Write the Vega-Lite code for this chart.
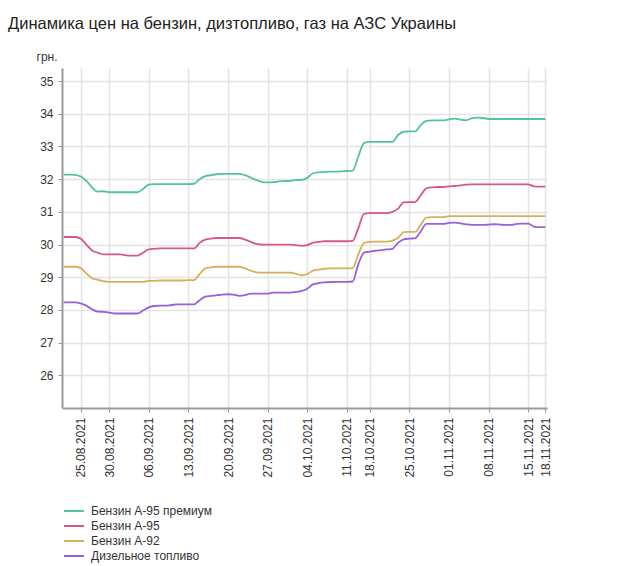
{
"$schema":"https://vega.github.io/schema/vega-lite/v6.json",
"width":485,"height":340,
"autosize":{"type":"none"},
"padding":{"left":62,"top":68,"right":73,"bottom":158},
"background":"white",
"title":{"text":"Динамика цен на бензин, дизтопливо, газ на АЗС Украины","anchor":"start","frame":"group","dx":-54,"offset":18,"font":"Liberation Sans","fontSize":16.5,"fontWeight":"normal","color":"#222"},
"config":{"view":{"stroke":null},"font":"Liberation Sans"},
"data":{"values":[
{"d":"22.08.2021","p":32.14,"a":30.23,"b":29.32,"t":28.23},
{"d":"23.08.2021","p":32.14,"a":30.23,"b":29.32,"t":28.23},
{"d":"24.08.2021","p":32.13,"a":30.23,"b":29.32,"t":28.23},
{"d":"25.08.2021","p":32.08,"a":30.18,"b":29.28,"t":28.20},
{"d":"26.08.2021","p":31.95,"a":30.00,"b":29.12,"t":28.13},
{"d":"27.08.2021","p":31.75,"a":29.82,"b":28.97,"t":28.02},
{"d":"28.08.2021","p":31.62,"a":29.75,"b":28.92,"t":27.95},
{"d":"29.08.2021","p":31.63,"a":29.70,"b":28.88,"t":27.94},
{"d":"30.08.2021","p":31.60,"a":29.70,"b":28.86,"t":27.92},
{"d":"31.08.2021","p":31.60,"a":29.70,"b":28.86,"t":27.89},
{"d":"01.09.2021","p":31.60,"a":29.70,"b":28.86,"t":27.89},
{"d":"02.09.2021","p":31.60,"a":29.67,"b":28.86,"t":27.89},
{"d":"03.09.2021","p":31.60,"a":29.66,"b":28.86,"t":27.89},
{"d":"04.09.2021","p":31.60,"a":29.66,"b":28.86,"t":27.89},
{"d":"05.09.2021","p":31.70,"a":29.75,"b":28.86,"t":27.98},
{"d":"06.09.2021","p":31.83,"a":29.85,"b":28.89,"t":28.08},
{"d":"07.09.2021","p":31.85,"a":29.87,"b":28.89,"t":28.12},
{"d":"08.09.2021","p":31.85,"a":29.88,"b":28.90,"t":28.13},
{"d":"09.09.2021","p":31.85,"a":29.88,"b":28.90,"t":28.13},
{"d":"10.09.2021","p":31.85,"a":29.88,"b":28.90,"t":28.15},
{"d":"11.09.2021","p":31.85,"a":29.88,"b":28.90,"t":28.17},
{"d":"12.09.2021","p":31.85,"a":29.88,"b":28.90,"t":28.17},
{"d":"13.09.2021","p":31.85,"a":29.88,"b":28.91,"t":28.17},
{"d":"14.09.2021","p":31.86,"a":29.88,"b":28.91,"t":28.17},
{"d":"15.09.2021","p":32.00,"a":30.05,"b":29.10,"t":28.30},
{"d":"16.09.2021","p":32.09,"a":30.15,"b":29.27,"t":28.41},
{"d":"17.09.2021","p":32.12,"a":30.18,"b":29.30,"t":28.43},
{"d":"18.09.2021","p":32.15,"a":30.20,"b":29.32,"t":28.45},
{"d":"19.09.2021","p":32.16,"a":30.20,"b":29.32,"t":28.47},
{"d":"20.09.2021","p":32.16,"a":30.20,"b":29.32,"t":28.48},
{"d":"21.09.2021","p":32.16,"a":30.20,"b":29.32,"t":28.47},
{"d":"22.09.2021","p":32.16,"a":30.20,"b":29.32,"t":28.43},
{"d":"23.09.2021","p":32.12,"a":30.15,"b":29.27,"t":28.45},
{"d":"24.09.2021","p":32.05,"a":30.08,"b":29.20,"t":28.50},
{"d":"25.09.2021","p":31.97,"a":30.02,"b":29.15,"t":28.50},
{"d":"26.09.2021","p":31.92,"a":30.00,"b":29.14,"t":28.50},
{"d":"27.09.2021","p":31.90,"a":30.00,"b":29.14,"t":28.50},
{"d":"28.09.2021","p":31.91,"a":30.00,"b":29.14,"t":28.53},
{"d":"29.09.2021","p":31.93,"a":30.00,"b":29.14,"t":28.53},
{"d":"30.09.2021","p":31.94,"a":30.00,"b":29.14,"t":28.53},
{"d":"01.10.2021","p":31.95,"a":30.00,"b":29.14,"t":28.53},
{"d":"02.10.2021","p":31.97,"a":29.98,"b":29.10,"t":28.55},
{"d":"03.10.2021","p":31.98,"a":29.96,"b":29.06,"t":28.58},
{"d":"04.10.2021","p":32.04,"a":29.98,"b":29.10,"t":28.65},
{"d":"05.10.2021","p":32.18,"a":30.06,"b":29.20,"t":28.78},
{"d":"06.10.2021","p":32.21,"a":30.08,"b":29.23,"t":28.82},
{"d":"07.10.2021","p":32.22,"a":30.10,"b":29.26,"t":28.84},
{"d":"08.10.2021","p":32.23,"a":30.10,"b":29.27,"t":28.85},
{"d":"09.10.2021","p":32.23,"a":30.10,"b":29.27,"t":28.86},
{"d":"10.10.2021","p":32.24,"a":30.10,"b":29.27,"t":28.86},
{"d":"11.10.2021","p":32.25,"a":30.10,"b":29.27,"t":28.86},
{"d":"15.10.2021","p":32.26,"a":30.11,"b":29.28,"t":28.87},
{"d":"16.10.2021","p":32.70,"a":30.50,"b":29.70,"t":29.40},
{"d":"17.10.2021","p":33.10,"a":30.94,"b":30.04,"t":29.75},
{"d":"18.10.2021","p":33.14,"a":30.96,"b":30.08,"t":29.78},
{"d":"19.10.2021","p":33.14,"a":30.96,"b":30.09,"t":29.81},
{"d":"20.10.2021","p":33.14,"a":30.96,"b":30.09,"t":29.83},
{"d":"21.10.2021","p":33.14,"a":30.96,"b":30.09,"t":29.85},
{"d":"22.10.2021","p":33.14,"a":31.00,"b":30.12,"t":29.87},
{"d":"23.10.2021","p":33.35,"a":31.10,"b":30.20,"t":30.05},
{"d":"24.10.2021","p":33.45,"a":31.29,"b":30.38,"t":30.16},
{"d":"25.10.2021","p":33.46,"a":31.30,"b":30.39,"t":30.18},
{"d":"26.10.2021","p":33.46,"a":31.30,"b":30.39,"t":30.19},
{"d":"27.10.2021","p":33.65,"a":31.50,"b":30.60,"t":30.40},
{"d":"28.10.2021","p":33.78,"a":31.72,"b":30.82,"t":30.63},
{"d":"29.10.2021","p":33.80,"a":31.75,"b":30.84,"t":30.63},
{"d":"30.10.2021","p":33.80,"a":31.76,"b":30.84,"t":30.63},
{"d":"31.10.2021","p":33.80,"a":31.76,"b":30.84,"t":30.63},
{"d":"01.11.2021","p":33.83,"a":31.78,"b":30.87,"t":30.66},
{"d":"02.11.2021","p":33.85,"a":31.79,"b":30.87,"t":30.67},
{"d":"03.11.2021","p":33.82,"a":31.81,"b":30.87,"t":30.65},
{"d":"04.11.2021","p":33.80,"a":31.83,"b":30.87,"t":30.62},
{"d":"05.11.2021","p":33.86,"a":31.84,"b":30.87,"t":30.60},
{"d":"06.11.2021","p":33.88,"a":31.84,"b":30.87,"t":30.60},
{"d":"07.11.2021","p":33.87,"a":31.84,"b":30.87,"t":30.60},
{"d":"08.11.2021","p":33.84,"a":31.84,"b":30.87,"t":30.61},
{"d":"09.11.2021","p":33.84,"a":31.84,"b":30.87,"t":30.62},
{"d":"10.11.2021","p":33.84,"a":31.84,"b":30.87,"t":30.61},
{"d":"11.11.2021","p":33.84,"a":31.84,"b":30.87,"t":30.60},
{"d":"12.11.2021","p":33.84,"a":31.84,"b":30.87,"t":30.60},
{"d":"13.11.2021","p":33.84,"a":31.84,"b":30.87,"t":30.63},
{"d":"14.11.2021","p":33.84,"a":31.84,"b":30.87,"t":30.64},
{"d":"15.11.2021","p":33.84,"a":31.84,"b":30.87,"t":30.64},
{"d":"16.11.2021","p":33.84,"a":31.78,"b":30.87,"t":30.55},
{"d":"17.11.2021","p":33.84,"a":31.77,"b":30.87,"t":30.53},
{"d":"18.11.2021","p":33.84,"a":31.77,"b":30.87,"t":30.53}
]},
"transform":[{"fold":["p","a","b","t"],"as":["k","v"]}],
"mark":{"type":"line","interpolate":"monotone","strokeWidth":1.8},
"encoding":{
"x":{"field":"d","type":"ordinal","sort":null,"scale":{"type":"point","padding":0.3},
"axis":{"values":["25.08.2021","30.08.2021","06.09.2021","13.09.2021","20.09.2021","27.09.2021","04.10.2021","11.10.2021","18.10.2021","25.10.2021","01.11.2021","08.11.2021","15.11.2021","18.11.2021"],
"title":null,"labelAngle":-90,"labelFontSize":12,"labelColor":"#333","labelPadding":5,"tickSize":4,"tickColor":"#999","domainColor":"#999","domainWidth":2,"grid":true,"gridColor":"#e3e3e3","gridWidth":1.5}},
"y":{"field":"v","type":"quantitative","scale":{"domain":[25,35.4],"nice":false,"zero":false},
"axis":{"values":[26,27,28,29,30,31,32,33,34,35],"title":"грн.","titleAngle":0,"titleAlign":"left","titleBaseline":"alphabetic","titleX":-26,"titleY":-8,"titleFontSize":12,"titleFontWeight":"normal","titleColor":"#333","labelFontSize":12,"labelColor":"#333","labelPadding":5,"tickSize":4,"tickColor":"#999","domainColor":"#999","domainWidth":2,"gridColor":"#e3e3e3","gridWidth":1.5}},
"color":{"field":"k","type":"nominal","scale":{"domain":["p","a","b","t"],"range":["#52c2a3","#d6568f","#d4b157","#9a5fdc"]},
"legend":{"title":null,"orient":"none","legendX":6,"legendY":437,"direction":"vertical","symbolType":"M-2.5,0H2.5","symbolSize":64,"symbolStrokeWidth":2,"labelFontSize":12,"labelColor":"#333","labelOffset":11,"rowPadding":3,
"labelExpr":"datum.label == 'p' ? 'Бензин А-95 премиум' : datum.label == 'a' ? 'Бензин А-95' : datum.label == 'b' ? 'Бензин А-92' : 'Дизельное топливо'"}}
}
}
